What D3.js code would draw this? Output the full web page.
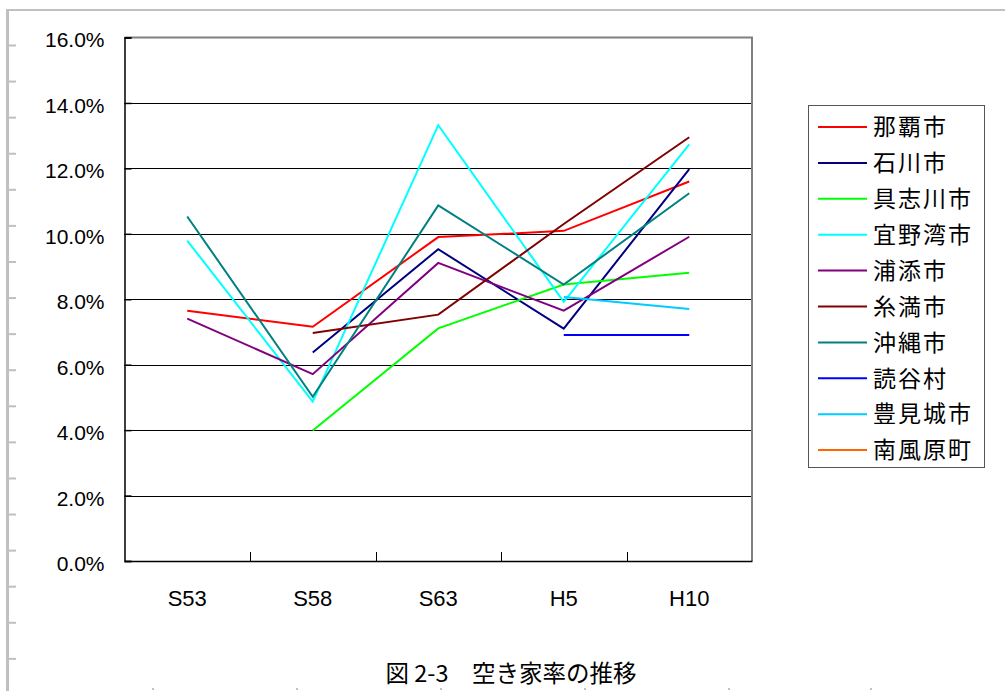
<!DOCTYPE html>
<html>
<head>
<meta charset="utf-8">
<script src="https://cdn.jsdelivr.net/npm/d3@7/dist/d3.min.js"></script>
<style>
  html, body { margin: 0; padding: 0; background: #fff; }
  svg { display: block; }
</style>
</head>
<body>
<svg id="chart" width="1005" height="691"></svg>
<script>
// Survey years (Showa / Heisei)
const categories = ["S53", "S58", "S63", "H5", "H10"];

// Vacancy rate (%) per municipality; null = no survey data
const seriesNames = ["那覇市", "石川市", "具志川市", "宜野湾市", "浦添市", "糸満市", "沖縄市", "読谷村", "豊見城市", "南風原町"];
const naha      = [7.65, 7.16, 9.90, 10.09, 11.60];
const ishikawa  = [null, 6.37, 9.53, 7.10, 11.98];
const gushikawa = [null, 3.99, 7.11, 8.45, 8.81];
const ginowan   = [9.79, 4.87, 13.32, 7.92, 12.73];
const urasoe    = [7.41, 5.71, 9.11, 7.65, 9.91];
const itoman    = [null, 6.97, 7.53, 10.30, 12.95];
const okinawa   = [10.53, 5.02, 10.87, 8.45, 11.24];
const yomitan   = [null, null, null, 6.91, 6.91];
const tomigusuku = [null, null, null, 8.07, 7.70];
const haebaru   = [null, null, null, null, null];
const seriesValues = [naha, ishikawa, gushikawa, ginowan, urasoe, itoman, okinawa, yomitan, tomigusuku, haebaru];
const seriesColors = ["#ff0000", "#000080", "#00ff00", "#00ffff", "#800080", "#800000", "#008080", "#0000ff", "#00ccff", "#ff6600"];

const yTicks = [0, 2, 4, 6, 8, 10, 12, 14, 16];
const caption = "図 2-3　空き家率の推移";

const svg = d3.select("#chart");
const W = 1005, H = 691;

// Page frame: light gray rules on the top and left with ruler marks
const frame = svg.append("g");
frame.append("rect").attr("x", 6).attr("y", 9).attr("width", W - 6).attr("height", 2).attr("fill", "#c0c0c0");
frame.append("rect").attr("x", 6).attr("y", 9).attr("width", 3).attr("height", H - 9).attr("fill", "#c0c0c0");
d3.range(18).forEach(k => {
  frame.append("rect").attr("x", 9).attr("y", 44.5 + 36.08 * k).attr("width", 7).attr("height", 2).attr("fill", "#c0c0c0");
});
[153, 297, 441, 585, 729, 871].forEach(x => {
  frame.append("rect").attr("x", x - 1).attr("y", 688).attr("width", 2).attr("height", 2).attr("fill", "#c0c0c0");
});

// Plot area
const plot = { left: 124.5, right: 752, top: 37.5, bottom: 561 };
const x = d3.scaleBand().domain(categories).range([plot.left, plot.right]).padding(0);
const y = d3.scaleLinear().domain([0, 16]).range([plot.bottom, plot.top]);

// Horizontal gridlines
svg.append("g")
  .selectAll("line")
  .data(yTicks.filter(t => t > 0 && t < 16))
  .join("line")
  .attr("x1", plot.left).attr("x2", plot.right)
  .attr("y1", d => Math.round(y(d)) + 0.5).attr("y2", d => Math.round(y(d)) + 0.5)
  .attr("stroke", "#000").attr("stroke-width", 1);

// Plot border: gray top and right edges
svg.append("path")
  .attr("d", `M${plot.left},${plot.top}H${plot.right}V${plot.bottom}`)
  .attr("fill", "none").attr("stroke", "#808080").attr("stroke-width", 2);

// Y axis
const yAxis = d3.axisLeft(y).tickValues(yTicks).tickSize(-7).tickPadding(20)
  .tickFormat(d => d.toFixed(1) + "%");
const gy = svg.append("g").attr("transform", `translate(${plot.left},0)`).call(yAxis);
gy.select(".domain").attr("stroke", "#000").attr("stroke-width", 1.5);
gy.selectAll(".tick line").attr("stroke", "#000").attr("stroke-width", 1.5);
gy.selectAll(".tick text")
  .attr("font-family", "'Liberation Sans', Arial, sans-serif")
  .attr("font-size", 21).attr("fill", "#000").attr("dy", "0.45em");

// X axis with tick marks on category boundaries
const gx = svg.append("g").attr("transform", `translate(0,${plot.bottom})`)
  .call(d3.axisBottom(x).tickSize(0).tickPadding(29));
gx.select(".domain").attr("stroke", "#000").attr("stroke-width", 1.5);
gx.selectAll(".tick text")
  .attr("font-family", "'Liberation Sans', Arial, sans-serif")
  .attr("font-size", 22).attr("fill", "#000");
gx.selectAll(".boundary")
  .data(categories.slice(1))
  .join("line")
  .attr("class", "boundary")
  .attr("x1", d => Math.round(x(d)) + 0.5).attr("x2", d => Math.round(x(d)) + 0.5)
  .attr("y1", 0).attr("y2", -9)
  .attr("stroke", "#000").attr("stroke-width", 1);

// Series lines
const line = d3.line()
  .defined(v => v !== null)
  .x((v, i) => x(categories[i]) + x.bandwidth() / 2)
  .y(v => y(v));

svg.append("g")
  .selectAll("path")
  .data(seriesValues)
  .join("path")
  .attr("d", d => line(d))
  .attr("fill", "none")
  .attr("stroke", (d, i) => seriesColors[i])
  .attr("stroke-width", 2)
  .attr("stroke-linejoin", "miter");

// Legend
const lg = svg.append("g");
lg.append("rect").attr("x", 808.5).attr("y", 105.5).attr("width", 176).attr("height", 362)
  .attr("fill", "#fff").attr("stroke", "#555").attr("stroke-width", 1);
const item = lg.selectAll(".item").data(seriesNames).join("g")
  .attr("class", "item")
  .attr("transform", (d, i) => `translate(0,${127 + i * 35.9})`);
item.append("line").attr("x1", 818).attr("x2", 867).attr("y1", 0).attr("y2", 0)
  .attr("stroke", (d, i) => seriesColors[i]).attr("stroke-width", 2);
item.append("text").attr("x", 873).attr("y", 0).attr("dy", "0.36em")
  .attr("font-family", "'Noto Sans CJK JP', sans-serif")
  .attr("font-size", 23).attr("letter-spacing", 2).attr("fill", "#000")
  .text(d => d);

// Caption
svg.append("text").attr("x", 511).attr("y", 674).attr("dy", "0.36em")
  .attr("text-anchor", "middle")
  .attr("font-family", "'Noto Sans CJK JP', sans-serif")
  .attr("font-size", 23.5).attr("fill", "#000")
  .text(caption);
</script>
</body>
</html>
